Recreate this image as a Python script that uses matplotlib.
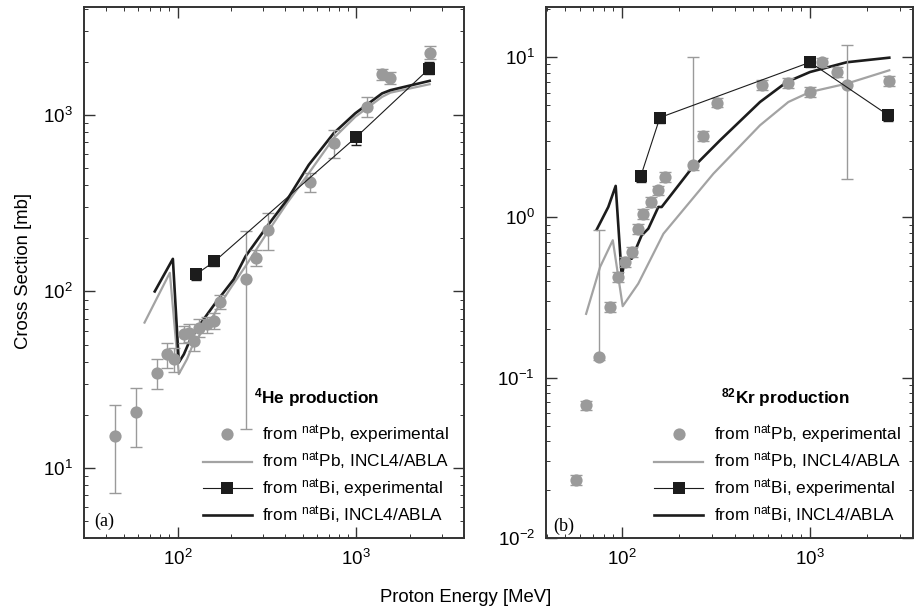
import numpy as np
import matplotlib
matplotlib.use("Agg")
import matplotlib.pyplot as plt
from matplotlib.lines import Line2D
from matplotlib.ticker import LogLocator, NullFormatter

plt.rcParams['font.family'] = ['Liberation Sans', 'DejaVu Sans']
plt.rcParams['mathtext.fontset'] = 'custom'
plt.rcParams['mathtext.rm'] = 'Liberation Sans'
plt.rcParams['mathtext.it'] = 'Liberation Sans:italic'
plt.rcParams['mathtext.bf'] = 'Liberation Sans:bold'

# ---------------- Panel (a): 4He production ----------------
he_pb_E = [44.7, 58.5, 77, 87.6, 95.4, 108.5, 115.7, 123, 131.6, 146.5, 159.6, 172,
           241, 273, 321, 553, 754, 1148, 1392, 1550, 2570]
he_pb_sig = [15.2, 20.8, 34.7, 44, 41.3, 57.2, 58.5, 52.5, 62.4, 65.2, 67.9, 87,
             118, 155, 224, 420, 692, 1114, 1706, 1626, 2260]
he_pb_lo = [7.2, 13.1, 27.9, 37, 35, 51, 52, 46, 55, 58, 61, 80,
            16.6, 140, 171, 364, 569, 970, 1578, 1500, 2090]
he_pb_hi = [22.8, 28.3, 41.3, 51, 48, 64, 65, 59, 70, 72, 75, 95,
            221, 171, 278, 472, 822, 1268, 1836, 1760, 2455]

he_bi_E = [127, 161, 995, 2560]
he_bi_sig = [125, 148, 748, 1836]
he_bi_lo = [116, 140, 677, 1700]
he_bi_hi = [134, 156, 795, 1990]

he_pb_incl_E = [65.4, 90.6, 101.7, 113, 120, 130, 150, 167, 200, 240, 317, 410, 542,
                747, 986, 1393, 1550, 2570]
he_pb_incl_sig = [66.6, 127.6, 34, 41.3, 48, 55, 66, 80, 106, 139, 215, 317, 468,
                  740, 977, 1268, 1340, 1496]

he_bi_incl_E = [74.6, 94.2, 101.7, 108.5, 118, 123, 131.6, 146.5, 163, 206, 240, 317,
                410, 542, 747, 986, 1393, 1550, 2570]
he_bi_incl_sig = [100, 153, 39.6, 44, 53.6, 57, 63.7, 74.1, 86, 117, 158, 234,
                  331, 522, 789, 1023, 1327, 1384, 1563]

# ---------------- Panel (b): 82Kr production ----------------
kr_pb_E = [56.7, 64.4, 75.5, 86.4, 95.5, 103.7, 112.6, 121.2, 128.8, 142.6, 156, 169,
           239, 271, 321, 553, 761, 1000, 1162, 1396, 1567, 2630]
kr_pb_sig = [0.0231, 0.0672, 0.1345, 0.275, 0.424, 0.526, 0.608, 0.85, 1.055, 1.245,
             1.47, 1.78, 2.11, 3.22, 5.2, 6.66, 6.88, 6.05, 9.25, 8.06, 6.73, 7.08]
kr_pb_lo = [0.0215, 0.0625, 0.128, 0.255, 0.395, 0.49, 0.565, 0.79, 0.98, 1.16,
            1.37, 1.66, 1.98, 3.0, 4.85, 6.2, 6.4, 5.65, 8.6, 7.5, 1.73, 6.6]
kr_pb_hi = [0.0248, 0.072, 0.83, 0.295, 0.455, 0.565, 0.655, 0.91, 1.13, 1.335,
            1.575, 1.91, 10.0, 3.45, 5.57, 7.15, 7.37, 6.5, 9.9, 8.65, 11.8, 7.6]

kr_bi_E = [125.7, 159, 1000, 2610]
kr_bi_sig = [1.80, 4.19, 9.27, 4.33]
kr_bi_lo = [1.67, 3.9, 8.6, 4.0]
kr_bi_hi = [1.93, 4.5, 9.95, 4.66]

kr_pb_incl_E = [64.4, 76.4, 89.3, 100.8, 122, 166, 306, 542, 767, 1000, 1567, 2640]
kr_pb_incl_sig = [0.25, 0.49, 0.72, 0.279, 0.386, 0.79, 1.87, 3.75, 5.24, 6.05, 6.82, 8.26]

kr_bi_incl_E = [73.3, 84.5, 92.5, 99.6, 103.7, 112.6, 127, 138, 156, 162.5, 230, 332,
                542, 752, 1000, 1567, 2640]
kr_bi_incl_sig = [0.838, 1.16, 1.57, 0.428, 0.552, 0.552, 0.77, 0.85, 1.16, 1.16, 1.96,
                  3.02, 5.24, 6.98, 8.06, 9.27, 9.9]

legend_labels = [r'from $^{\mathregular{nat}}$Pb, experimental',
                 r'from $^{\mathregular{nat}}$Pb, INCL4/ABLA',
                 r'from $^{\mathregular{nat}}$Bi, experimental',
                 r'from $^{\mathregular{nat}}$Bi, INCL4/ABLA']
panel_titles = [r'$\mathbf{^{4}He\ production}$', r'$\mathbf{^{82}Kr\ production}$']

GREY_PT = '#9a9a9a'
GREY_LN = '#a3a3a3'
BLACK = '#1c1c1c'

fig = plt.figure(figsize=(9.15, 6.15), dpi=100)
axA = fig.add_axes([84/915, 77/615, 380/915, 531/615])
axB = fig.add_axes([546/915, 77/615, 367/915, 531/615])


def errs(sig, lo, hi):
    s = np.array(sig)
    return [s - np.array(lo), np.array(hi) - s]


def draw(ax, pbE, pbS, pbLo, pbHi, biE, biS, biLo, biHi, pinE, pinS, binE, binS):
    ax.plot(pinE, pinS, color=GREY_LN, lw=1.6, zorder=2)
    ax.plot(binE, binS, color=BLACK, lw=1.9, zorder=3)
    ax.errorbar(pbE, pbS, yerr=errs(pbS, pbLo, pbHi), fmt='none',
                ecolor=GREY_PT, elinewidth=1.0, capsize=4.5, capthick=1.0, zorder=4)
    ax.plot(pbE, pbS, ls='none', marker='o', color=GREY_PT, markersize=8.8,
            markeredgewidth=0, zorder=4.5)
    ax.plot(biE, biS, ls='-', color=BLACK, lw=0.8, zorder=5)
    ax.errorbar(biE, biS, yerr=errs(biS, biLo, biHi), fmt='none',
                ecolor=BLACK, elinewidth=1.0, capsize=3.5, capthick=1.0, zorder=5)
    ax.plot(biE, biS, ls='none', marker='s', color=BLACK, markersize=8.0,
            markeredgewidth=0, zorder=5.5)
    ax.set_xscale('log')
    ax.set_yscale('log')
    ax.tick_params(which='major', direction='in', length=8, width=1.0,
                   top=True, right=True, labelsize=13.5, pad=8, color='#333333')
    ax.tick_params(which='minor', direction='in', length=3, width=0.7,
                   top=True, right=True, color='#333333')
    ax.xaxis.set_minor_locator(LogLocator(base=10, subs=np.arange(2, 10), numticks=20))
    ax.yaxis.set_minor_locator(LogLocator(base=10, subs=np.arange(2, 10), numticks=20))
    ax.xaxis.set_minor_formatter(NullFormatter())
    ax.yaxis.set_minor_formatter(NullFormatter())
    for sp in ax.spines.values():
        sp.set_linewidth(1.4)
        sp.set_color('#333333')


draw(axA, he_pb_E, he_pb_sig, he_pb_lo, he_pb_hi, he_bi_E, he_bi_sig, he_bi_lo, he_bi_hi,
     he_pb_incl_E, he_pb_incl_sig, he_bi_incl_E, he_bi_incl_sig)
draw(axB, kr_pb_E, kr_pb_sig, kr_pb_lo, kr_pb_hi, kr_bi_E, kr_bi_sig, kr_bi_lo, kr_bi_hi,
     kr_pb_incl_E, kr_pb_incl_sig, kr_bi_incl_E, kr_bi_incl_sig)

axA.set_xlim(30, 4000)
axA.set_ylim(4.0, 4100)
axB.set_xlim(39.4, 3530)
axB.set_ylim(0.01, 20.5)

handles = [Line2D([], [], ls='none', marker='o', color=GREY_PT, markersize=8.8, markeredgewidth=0),
           Line2D([], [], color=GREY_LN, lw=1.6),
           Line2D([], [], color=BLACK, lw=0.8, marker='s', markersize=8, markeredgewidth=0),
           Line2D([], [], color=BLACK, lw=1.9)]

legA = axA.legend(handles, legend_labels, loc='lower right', frameon=False,
                  fontsize=12.4, handlelength=2.85, handletextpad=0.6,
                  labelspacing=0.27, borderaxespad=0.3, bbox_to_anchor=(0.993, 0.0))
legB = axB.legend(handles, legend_labels, loc='lower right', frameon=False,
                  fontsize=12.4, handlelength=2.85, handletextpad=0.6,
                  labelspacing=0.27, borderaxespad=0.3, bbox_to_anchor=(1.0, 0.0))

# legend titles (positioned as in the original)
axA.text((317 - 84) / 380, (538 - 398) / 531, panel_titles[0], transform=axA.transAxes,
         ha='center', va='center', fontsize=12.4)
axB.text((785 - 546) / 367, (538 - 398) / 531, panel_titles[1], transform=axB.transAxes,
         ha='center', va='center', fontsize=12.4)

axA.text(0.028, 0.032, '(a)', transform=axA.transAxes, ha='left', va='center',
         fontsize=13, family='Liberation Serif')
axB.text(0.019, 0.022, '(b)', transform=axB.transAxes, ha='left', va='center',
         fontsize=13, family='Liberation Serif')

fig.text(0.509, 0.028, 'Proton Energy [MeV]', ha='center', va='center', fontsize=13.3)
fig.text(0.026, 0.56, 'Cross Section [mb]', ha='center', va='center', rotation=90,
         fontsize=13.3)

fig.savefig('out.png', dpi=100)
